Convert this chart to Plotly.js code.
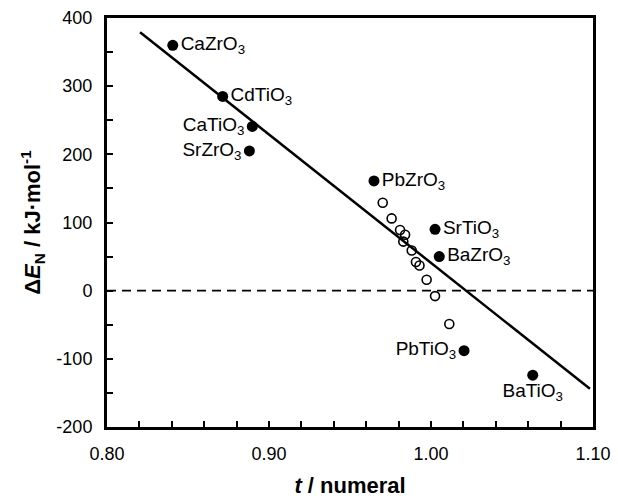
<!DOCTYPE html>
<html>
<head>
<meta charset="utf-8">
<script src="https://cdn.plot.ly/plotly-3.0.1.min.js"></script>
<style>html,body{margin:0;padding:0;background:#fff;}#chart{width:618px;height:499px;}</style>
</head>
<body>
<div id="chart"></div>
<script>
// Filled points (labelled compounds)
const namedLabels = ["CaZrO<sub>3</sub>", "CdTiO<sub>3</sub>", "CaTiO<sub>3</sub>", "SrZrO<sub>3</sub>", "PbZrO<sub>3</sub>", "SrTiO<sub>3</sub>", "BaZrO<sub>3</sub>", "PbTiO<sub>3</sub>", "BaTiO<sub>3</sub>"];
const namedT = [0.8406, 0.8714, 0.8897, 0.8879, 0.9648, 1.0025, 1.0051, 1.0204, 1.0628];
const namedE = [360, 285, 241, 205, 161, 90, 50, -88, -124];
const namedPos = ["middle right", "middle right", "middle left", "middle left", "middle right", "middle right", "middle right", "middle left", "bottom center"];

// Open points
const openT = [0.9702, 0.9757, 0.9809, 0.9840, 0.9829, 0.9881, 0.9907, 0.9929, 0.9973, 1.0025, 1.0113];
const openE = [129, 106, 89, 82, 72, 59, 42, 37, 16, -8, -49];

// Regression line end points
const fitT = [0.8204, 1.0981];
const fitE = [379, -144];

// Zero reference line
const zeroT = [0.80, 1.10];
const zeroE = [0, 0];

// Tick labels
const xTickVals = [0.80, 0.90, 1.00, 1.10];
const xTickText = ["0.80", "0.90", "1.00", "1.10"];
const yTickVals = [-200, -100, 0, 100, 200, 300, 400];
const yTickText = ["-200", "-100", "0", "100", "200", "300", "400"];

const FONT = "Liberation Sans, Arial, Helvetica, sans-serif";

const data = [
  {x: zeroT, y: zeroE, mode: "lines", line: {color: "#000", width: 1.6, dash: "9px,6px"}, hoverinfo: "skip"},
  {x: fitT, y: fitE, mode: "lines", line: {color: "#000", width: 2.5}, hoverinfo: "skip"},
  {x: openT, y: openE, mode: "markers",
   marker: {symbol: "circle-open", size: 9, color: "#000", line: {width: 1.6, color: "#000"}}},
  {x: namedT, y: namedE, mode: "markers+text", text: namedLabels, textposition: namedPos,
   textfont: {family: FONT, size: 19, color: "#000"},
   marker: {symbol: "circle", size: 11, color: "#000"}}
];

const layout = {
  width: 618, height: 499,
  margin: {l: 107, r: 25, t: 18, b: 72},
  paper_bgcolor: "#fff", plot_bgcolor: "#fff",
  showlegend: false,
  font: {family: FONT, size: 18, color: "#000"},
  xaxis: {
    range: [0.80, 1.10], tickmode: "array", tickvals: xTickVals, ticktext: xTickText,
    ticks: "inside", ticklen: 6, tickwidth: 2, tickcolor: "#000",
    minor: {dtick: 0.02, tick0: 0.80, ticks: "inside", ticklen: 6, tickwidth: 2, tickcolor: "#000"},
    showline: true, linewidth: 3, linecolor: "#000", mirror: true,
    showgrid: false, zeroline: false, ticklabelstandoff: 8,
    tickfont: {family: FONT, size: 18, color: "#000"},
    title: {text: "<b><i>t</i> / numeral</b>", font: {family: FONT, size: 22, color: "#000"}, standoff: 16}
  },
  yaxis: {
    range: [-200, 400], tickmode: "array", tickvals: yTickVals, ticktext: yTickText,
    ticks: "inside", ticklen: 6, tickwidth: 2, tickcolor: "#000",
    minor: {dtick: 50, tick0: 0, ticks: "inside", ticklen: 6, tickwidth: 2, tickcolor: "#000"},
    showline: true, linewidth: 3, linecolor: "#000", mirror: true,
    showgrid: false, zeroline: false, ticklabelstandoff: 8,
    tickfont: {family: FONT, size: 18, color: "#000"},
    title: {text: "<b>Δ<i>E</i><sub>N</sub> / kJ·mol<sup>-1</sup></b>", font: {family: FONT, size: 22, color: "#000"}, standoff: 10}
  }
};

Plotly.newPlot("chart", data, layout, {staticPlot: true, displayModeBar: false});
</script>
</body>
</html>
